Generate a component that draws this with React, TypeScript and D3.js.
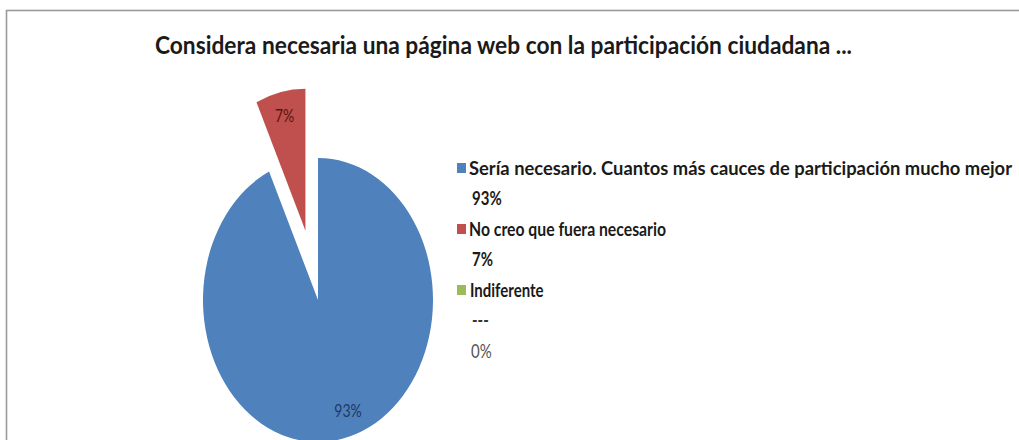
import React from "react";
import * as d3 from "d3";

const title = "Considera necesaria una página web con la participación ciudadana ...";
const categories = [
  "Sería necesario. Cuantos más cauces de participación mucho mejor",
  "No creo que fuera necesario",
  " Indiferente",
];
const values = [93, 7, 0];
const valueLabels = ["93%", "7%", "0%"];
const extraLines = ["", "", "---"];
const colors = ["#4f81bd", "#c0504d", "#9bbb59"];
const labelColors = ["#1f3864", "#5c1312", "#4f6228"];

const W = 1019;
const H = 440;
const SY = 1.235; // vertical stretch of the picture
const R = 115;
const CX = 318;
const CY = 300;
const FONT = "Lato, 'Open Sans', sans-serif";

export default function App() {
  const pie = d3.pie<number>().sort(null).value((d) => d);
  const arcs = pie(values);
  const arc = d3.arc<d3.PieArcDatum<number>>().innerRadius(0).outerRadius(R);
  const explode = [0, 0.5, 0];
  const labelR = [0.8, 0.83, 0.8];

  const legendX = 457;
  const legendY0 = 168;
  const pitch = 30.5;
  const rows: { text: string; marker?: string; dx: number; color: string; weight: string; len?: number }[] = [];
  categories.forEach((c, i) => {
    rows.push({
      text: c,
      marker: colors[i],
      dx: i === 2 ? 13 : 12,
      color: "#1a1a1a",
      weight: "bold",
      len: i === 0 ? 543 : i === 1 ? 197 : undefined,
    });
    if (extraLines[i]) rows.push({ text: extraLines[i], dx: 15, color: "#333", weight: "bold" });
    rows.push({
      text: valueLabels[i],
      dx: i === 2 ? 14 : 15,
      color: i === 2 ? "#555" : "#1a1a1a",
      weight: i === 2 ? "normal" : "bold",
    });
  });

  return (
    <svg
      width={W}
      height={H}
      style={{ position: "absolute", left: 0, top: 0, background: "#fff" }}
    >
      <rect x={6.5} y={10.5} width={W + 20} height={H + 20} fill="#fff" stroke="#9a9a9a" strokeWidth={1.6} />
      <g transform={`translate(${(155 + 852) / 2},54) scale(1,${SY})`}>
        <text
          textAnchor="middle"
          fontFamily={FONT}
          fontWeight="bold"
          fontSize={20}
          fill="#1a1a1a"
          textLength={697}
          lengthAdjust="spacingAndGlyphs"
        >
          {title}
        </text>
      </g>
      <g transform={`translate(${CX},${CY}) scale(1,${SY})`}>
        {arcs.map((a, i) => {
          if (a.value === 0) return null;
          const mid = (a.startAngle + a.endAngle) / 2;
          const ox = Math.sin(mid) * explode[i] * R;
          const oy = -Math.cos(mid) * explode[i] * R;
          return (
            <g key={i} transform={`translate(${ox},${oy})`}>
              <path d={arc(a) || ""} fill={colors[i]} />
            </g>
          );
        })}
      </g>
      {arcs.map((a, i) => {
        if (a.value === 0) return null;
        const mid = (a.startAngle + a.endAngle) / 2;
        const rr = (explode[i] + labelR[i]) * R;
        const lx = CX + Math.sin(mid) * rr + (i === 0 ? 10 : 0);
        const ly = CY - Math.cos(mid) * rr * SY;
        return (
          <g key={i} transform={`translate(${lx},${ly}) scale(1,${SY})`}>
            <text
              textAnchor="middle"
              dy="0.35em"
              fontFamily={FONT}
              fontSize={14}
              fill={labelColors[i]}
            >
              {valueLabels[i]}
            </text>
          </g>
        );
      })}
      <g>
        {rows.map((r, j) => {
          const y = legendY0 + j * pitch;
          return (
            <g key={j}>
              {r.marker && <rect x={legendX} y={y - 5} width={9} height={10} fill={r.marker} />}
              <g transform={`translate(${legendX + r.dx},${y}) scale(1,${SY})`}>
                <text
                  dy="0.36em"
                  fontFamily={FONT}
                  fontWeight={r.weight}
                  fontSize={15}
                  fill={r.color}
                  textLength={r.len}
                  lengthAdjust={r.len ? "spacingAndGlyphs" : undefined}
                >
                  {r.text}
                </text>
              </g>
            </g>
          );
        })}
      </g>
    </svg>
  );
}
